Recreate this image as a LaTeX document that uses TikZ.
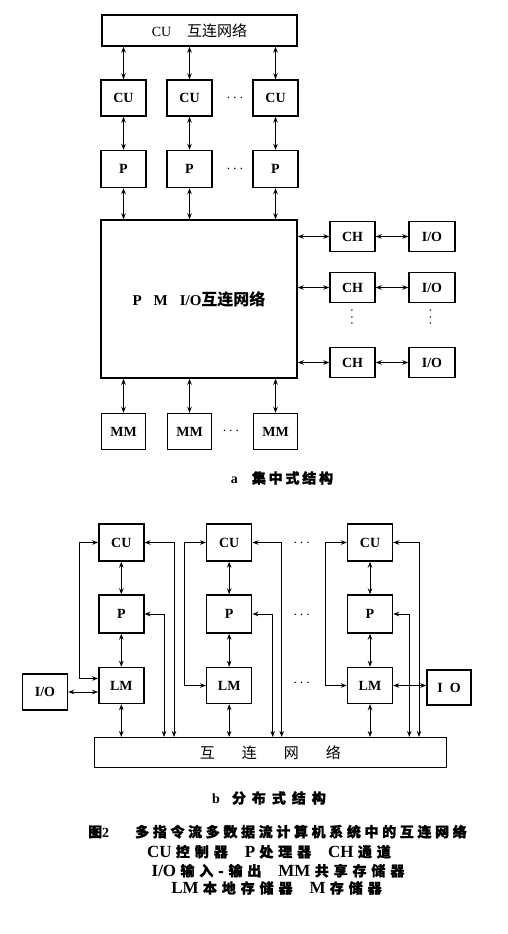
\documentclass[tikz,border=0pt]{standalone}
\usepackage{fontspec}
\setmainfont{Liberation Serif}
\newfontfamily\cjk{Noto Sans CJK SC}
\newfontfamily\cjkb[FakeBold=1.5,LetterSpace=20]{Noto Sans CJK SC}
\newfontfamily\cjkt[FakeBold=1.5,LetterSpace=26]{Noto Sans CJK SC}
\newfontfamily\cjkw[FakeBold=1.5,LetterSpace=35]{Noto Sans CJK SC}
\newcommand\zh[1]{{\fontsize{14}{16}\selectfont\cjkw #1}}
\usetikzlibrary{arrows.meta}

\begin{document}
\begin{tikzpicture}[x=1pt,y=-1pt,
  box/.style={draw,line width=1.4pt,inner sep=0pt,minimum width=45pt,minimum height=36pt,font=\fontsize{14}{16}\selectfont\bfseries},
  dbl/.style={line width=1pt,{Stealth[length=6pt,width=4.5pt]}-{Stealth[length=6pt,width=4.5pt]}},
  dots/.style={font=\fontsize{14}{16}\selectfont}]
\useasboundingbox (0,0) rectangle (507,934);

% a: centralised structure
\node[box,minimum width=195pt,minimum height=31pt,font=\fontsize{14}{16}\selectfont] (cunet) at (199.5,30.5) {CU\hspace{16pt}{\fontsize{15}{17}\selectfont\cjk 互连网络}};
\foreach \n/\x in {1/123.5,2/189.5,3/275.5}{
  \node[box] (cu\n) at (\x,98) {CU};
  \node[box,minimum height=37pt] (p\n) at (\x,169) {P};
  \node[box,minimum width=44pt] (mm\n) at (\x,431.5) {MM};
}
\node[box,minimum width=196pt,minimum height=158pt,font=\fontsize{15}{17}\selectfont\bfseries] (pmio) at (199,299) {P\hspace{12pt}M\hspace{12pt}I/O{\fontsize{16}{18}\selectfont\cjk 互连网络}};
\foreach \n/\y in {1/236.5,2/287.5,3/362.5}{
  \node[box,minimum height=30pt] (ch\n) at (352.5,\y) {CH};
  \node[box,minimum width=46pt,minimum height=30pt] (io\n) at (432,\y) {I/O};
}
\foreach \n in {1,2,3}{
  \draw[dbl] (cu\n|-cunet.south) -- (cu\n.north);
  \draw[dbl] (cu\n) -- (p\n);
  \draw[dbl] (p\n.south) -- (p\n|-pmio.north);
  \draw[dbl] (mm\n|-pmio.south) -- (mm\n.north);
  \draw[dbl] (pmio.east|-ch\n) -- (ch\n.west);
  \draw[dbl] (ch\n) -- (io\n);
}
\node[dots] (dcu) at (235,98) {$\cdots$};
\node[dots] (dp) at (235,169) {$\cdots$};
\node[dots] (dmm) at (231,431.5) {$\cdots$};
\node[dots,rotate=90] (dch) at (352.5,317) {$\cdots$};
\node[dots,rotate=90] (dio) at (431,317) {$\cdots$};
\node[font=\fontsize{14}{16}\selectfont\bfseries] (capa) at (282,478) {a\hspace{14pt}{\cjkb 集中式结构}};

% b: distributed structure
\foreach \n/\x in {1/121.3,2/229.2,3/370}{
  \node[box,minimum height=37pt] (bcu\n) at (\x,542.5) {CU};
  \node[box,minimum height=38pt] (bp\n) at (\x,614) {P};
  \node[box] (lm\n) at (\x,685.5) {LM};
}
\node[box,minimum width=352pt,minimum height=30pt,font=\fontsize{15}{17}\selectfont] (net) at (270.3,752.7) {\cjk 互\hspace{27pt}连\hspace{27pt}网\hspace{27pt}络};
\node[box] (bio1) at (45,692) {I/O};
\node[box,minimum width=44pt,minimum height=35pt] (bio2) at (449,687.5) {I\ \ O};

\foreach \n/\l/\r/\s in {1/79/174/164,2/184/281.7/272.7,3/325/419/409.3}{
  \coordinate (l\n) at (\l,0);
  \coordinate (r\n) at (\r,0);
  \coordinate (s\n) at (\s,0);
  \draw[dbl] (bcu\n) -- (bp\n);
  \draw[dbl] (bp\n) -- (lm\n);
  \draw[dbl] (lm\n.south) -- (lm\n|-net.north);
  \draw[dbl] (bcu\n.east) -| (r\n|-net.north);
  \draw[dbl] (bp\n.east) -| (s\n|-net.north);
}
\coordinate (lmin) at ([yshift=7pt]lm1.west);
\draw[dbl] (bcu1.west) -| (l1|-lmin) -- (lmin);
\draw[dbl] (bcu2.west) -| (l2|-lm2.west) -- (lm2.west);
\draw[dbl] (bcu3.west) -| (l3|-lm3.west) -- (lm3.west);
\draw[dbl] (bio1.east) -- (bio1.east-|lm1.west);
\draw[dbl] (lm3.east) -- (lm3.east-|bio2.west);

\node[dots] (bdcu) at (301.7,543) {$\cdots$};
\node[dots] (bdp) at (301.7,615) {$\cdots$};
\node[dots] (bdlm) at (301.7,683) {$\cdots$};

% captions
\node[font=\fontsize{14}{16}\selectfont\bfseries] (capb) at (269,798) {b\hspace{12pt}{\cjkb 分\hspace{6pt}布\hspace{6pt}式\hspace{6pt}结\hspace{6pt}构}};
\node[font=\fontsize{14}{16}\selectfont\bfseries] (title) at (277.5,831.7) {{\cjkt 图}2\hspace{26pt}{\cjkt 多指令流多数据流计算机系统中的互连网络}};
\node[font=\fontsize{17}{19}\selectfont\bfseries] (leg1) at (269,851.7) {CU\ \zh{控制器}\quad P\ \zh{处理器}\quad CH\ \zh{通道}};
\node[font=\fontsize{17}{19}\selectfont\bfseries] (leg2) at (278,870.7) {I/O\ \zh{输入-输出}\quad MM\ \zh{共享存储器}};
\node[font=\fontsize{17}{19}\selectfont\bfseries] (leg3) at (276.5,888) {LM\ \zh{本地存储器}\quad M\ \zh{存储器}};
\end{tikzpicture}
\end{document}
